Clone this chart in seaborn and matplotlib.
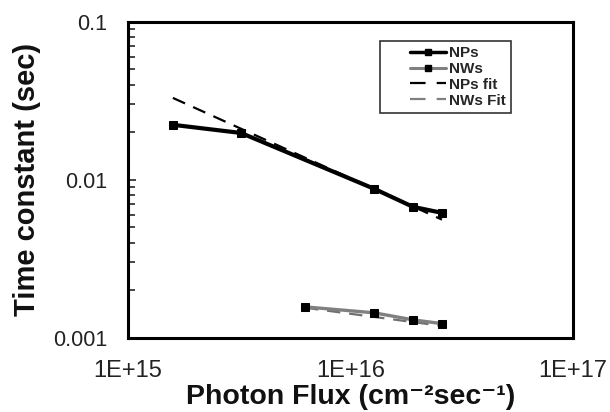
import numpy as np
import pandas as pd
import matplotlib
matplotlib.use("Agg")
import matplotlib.pyplot as plt
import seaborn as sns
from matplotlib.lines import Line2D
from matplotlib.legend_handler import HandlerLine2D

# Data
nps_flux = [1.59e15, 3.22e15, 1.28e16, 1.91e16, 2.58e16]
nps_tau = [0.0223, 0.0198, 0.00877, 0.00675, 0.00618]
nws_flux = [6.25e15, 1.28e16, 1.91e16, 2.58e16]
nws_tau = [0.00157, 0.00144, 0.00130, 0.00123]
nps_fit_flux = [1.59e15, 2.58e16]
nps_fit_tau = [0.033, 0.0056]
nws_fit_flux = [6.25e15, 2.58e16]
nws_fit_tau = [0.00155, 0.00119]
x_ticks = [1e15, 1e16, 1e17]
x_ticklabels = ["1E+15", "1E+16", "1E+17"]
y_ticks = [0.001, 0.01, 0.1]
y_ticklabels = ["0.001", "0.01", "0.1"]
legend_labels = ["NPs", "NWs", "NPs fit", "NWs Fit"]

sns.set_style("white")
plt.rcParams['font.family'] = ['Liberation Sans', 'DejaVu Sans']

fig = plt.figure(figsize=(6.10, 4.12), dpi=100)
ax = fig.add_axes([0.21, 0.18, 0.729, 0.767])

df_np = pd.DataFrame({"x": nps_flux, "y": nps_tau})
df_nw = pd.DataFrame({"x": nws_flux, "y": nws_tau})
df_npf = pd.DataFrame({"x": nps_fit_flux, "y": nps_fit_tau})
df_nwf = pd.DataFrame({"x": nws_fit_flux, "y": nws_fit_tau})

sns.lineplot(data=df_npf, x="x", y="y", ax=ax, color="black", lw=1.6,
             linestyle=(0, (6, 4)), zorder=2)
sns.lineplot(data=df_nwf, x="x", y="y", ax=ax, color="#707070", lw=1.6,
             linestyle=(0, (6, 4)), zorder=2)
sns.lineplot(data=df_np, x="x", y="y", ax=ax, color="black", lw=3,
             marker="s", markersize=6, markerfacecolor="black",
             markeredgecolor="black", zorder=3)
sns.lineplot(data=df_nw, x="x", y="y", ax=ax, color="#808080", lw=2.4,
             marker="s", markersize=5.5, markerfacecolor="black",
             markeredgecolor="black", zorder=3)

ax.set_xscale("log")
ax.set_yscale("log")
ax.set_xlim(1e15, 1e17)
ax.set_ylim(0.001, 0.1)

ax.set_xticks(x_ticks)
ax.set_xticklabels(x_ticklabels)
ax.set_yticks(y_ticks)
ax.set_yticklabels(y_ticklabels)
ax.xaxis.set_minor_locator(matplotlib.ticker.NullLocator())
ax.yaxis.set_minor_locator(matplotlib.ticker.LogLocator(base=10, subs=np.arange(2, 10)))
ax.yaxis.set_minor_formatter(matplotlib.ticker.NullFormatter())

ax.tick_params(axis="x", which="both", length=0, pad=16, labelsize=17)
ax.tick_params(axis="y", which="major", direction="in", length=6, width=1.2,
               pad=15, labelsize=15.5, left=True)
ax.tick_params(axis="y", which="minor", direction="in", length=5, width=1.2, left=True)
for lab in ax.get_yticklabels() + ax.get_xticklabels():
    lab.set_color("#222222")

for s in ax.spines.values():
    s.set_visible(True)
    s.set_color("black")
    s.set_linewidth(2.2)

ax.set_xlabel("Photon Flux (cm\u207b\u00b2sec\u207b\u00b9)",
              fontsize=20.5, fontweight="bold", labelpad=1.5, color="#111111")
ax.set_ylabel("Time constant (sec)", fontsize=21, fontweight="bold", labelpad=9, color="#111111")

handles = [
    Line2D([], [], color="black", lw=2.5, marker="s", markersize=5, markerfacecolor="black"),
    Line2D([], [], color="#808080", lw=2.2, marker="s", markersize=5, markerfacecolor="black", markeredgecolor="black"),
    Line2D([], [], color="black", lw=1.6, linestyle=(0, (7, 5))),
    Line2D([], [], color="#808080", lw=1.6, linestyle=(0, (7, 5))),
]
hmap = {h: HandlerLine2D(xpad=1.6) for h in handles}
leg = ax.legend(handles, legend_labels, loc="upper left", bbox_to_anchor=(0.566, 0.94),
                prop={"weight": "bold", "size": 11}, frameon=True, fancybox=False,
                handlelength=4.0, handletextpad=0.15, labelspacing=0.12,
                borderpad=0.35, borderaxespad=0, handler_map=hmap)
leg.get_frame().set_edgecolor("black")
leg.get_frame().set_linewidth(1.2)

fig.savefig("out.png", dpi=100)
